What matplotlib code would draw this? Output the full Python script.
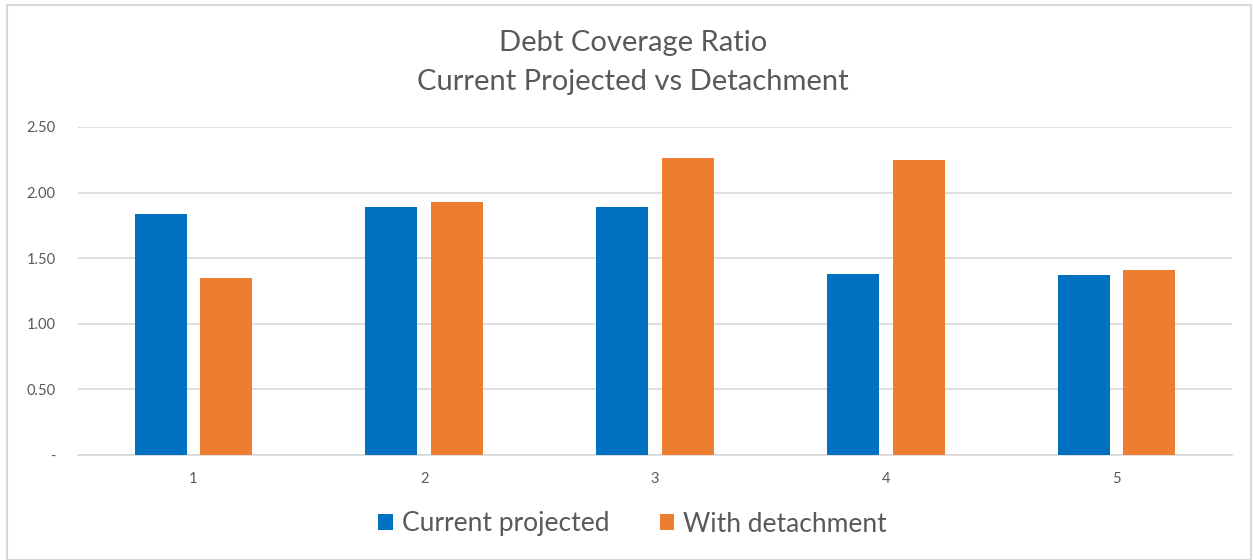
import matplotlib.pyplot as plt
import numpy as np
from matplotlib.patches import Rectangle

# debt coverage ratio per year
years = ['1', '2', '3', '4', '5']
current = [1.84, 1.89, 1.89, 1.38, 1.37]
detach = [1.35, 1.93, 2.26, 2.25, 1.41]
yticks = [0, 0.5, 1.0, 1.5, 2.0, 2.5]
ylabels = ['-', '0.50', '1.00', '1.50', '2.00', '2.50']

plt.rcParams['font.family'] = ['Lato', 'DejaVu Sans']
grey = '#595959'

fig = plt.figure(figsize=(12.53, 5.6), dpi=100)
ax = fig.add_axes([78 / 1253, 1 - 455 / 560, (1232 - 78) / 1253, (455 - 127) / 560])

# light frame around the chart
fig.patches.append(Rectangle((7 / 1253, 0), 1244 / 1253, 1 - 5 / 560,
                             transform=fig.transFigure, fill=False,
                             edgecolor='#d9d9d9', lw=1.5))

x = np.arange(len(years))
w = 0.225
ax.bar(x - 0.142, current, w, color='#0070c0', label='Current projected', zorder=3)
ax.bar(x + 0.142, detach, w, color='#ed7d31', label='With detachment', zorder=3)

ax.set_xlim(-0.5, len(years) - 0.5)
ax.set_ylim(0, 2.5)
ax.set_yticks(yticks)
ax.set_yticklabels(ylabels)
ax.set_xticks(x)
ax.set_xticklabels(years)
ax.yaxis.grid(True, color='#d9d9d9', lw=1.2, zorder=0)
ax.tick_params(length=0, colors=grey, labelsize=10.5)
ax.tick_params(axis='y', pad=16)
ax.tick_params(axis='x', pad=12)
for s in ['top', 'right', 'left']:
    ax.spines[s].set_visible(False)
ax.spines['bottom'].set_color('#d9d9d9')
ax.spines['bottom'].set_linewidth(1.2)

fig.text(0.505, 1 - 43 / 560, 'Debt Coverage Ratio', ha='center', va='center',
         fontsize=21, color=grey)
fig.text(0.505, 1 - 82 / 560, 'Current Projected vs Detachment', ha='center',
         va='center', fontsize=21, color=grey)

fig.legend(loc='center', bbox_to_anchor=(0.505, 1 - 524 / 560), ncol=2,
           frameon=False, fontsize=19, labelcolor=grey, handlelength=0.55,
           handleheight=0.55, handletextpad=0.35, columnspacing=1.9)

fig.savefig('out.png', dpi=100)
